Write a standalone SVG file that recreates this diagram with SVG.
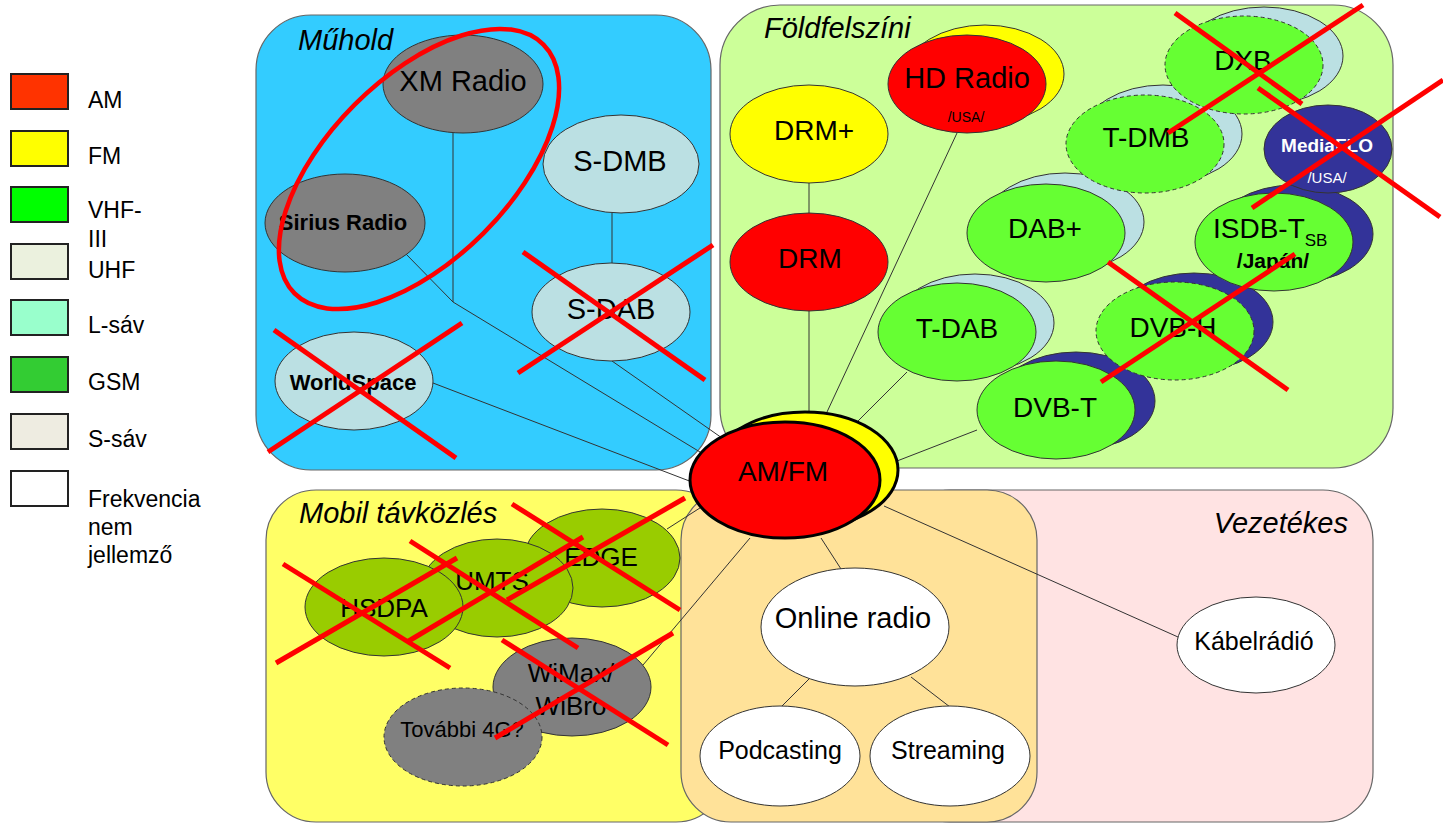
<svg xmlns="http://www.w3.org/2000/svg" width="1443" height="824" viewBox="0 0 1443 824">
<style>
text{font-family:"Liberation Sans",Arial,Helvetica,sans-serif;fill:#000}
.lg{stroke:#222;stroke-width:2}
.lt{font-size:23px}
.pn{stroke:#666;stroke-width:1.2}
.ttl{font-size:29px;font-style:italic}
.nd{stroke:#333;stroke-width:1}
.ds{stroke:#333;stroke-width:1;stroke-dasharray:4 3}
.gr{fill:#808080}.lb{fill:#BBE0E3}.gn{fill:#66FF33}.db{fill:#333399}.rd{fill:#FF0000}.ye{fill:#FFFF00}.ol{fill:#99CC00}.wh{fill:#FFFFFF}
.c{text-anchor:middle}
.t28{font-size:28px}.t26{font-size:26px}.t25{font-size:25px}
.cn{stroke:#333;stroke-width:1;fill:none}
.x{stroke:#FF0000;stroke-width:5;stroke-linecap:butt;fill:none}
</style>

<g id="legend">
<rect class="lg" x="11" y="74" width="57" height="35" fill="#FF3300"/>
<text class="lt" x="88" y="108">AM</text>
<rect class="lg" x="11" y="131" width="57" height="35" fill="#FFFF00"/>
<text class="lt" x="88" y="164">FM</text>
<rect class="lg" x="11" y="187" width="57" height="35" fill="#00FF00"/>
<text class="lt" x="88" y="218">VHF-</text>
<text class="lt" x="88" y="247">III</text>
<rect class="lg" x="11" y="244" width="57" height="35" fill="#EBF1DE"/>
<text class="lt" x="88" y="278">UHF</text>
<rect class="lg" x="11" y="300" width="57" height="35" fill="#99FFCC"/>
<text class="lt" x="88" y="333">L-sáv</text>
<rect class="lg" x="11" y="357" width="57" height="35" fill="#33CC33"/>
<text class="lt" x="88" y="390">GSM</text>
<rect class="lg" x="11" y="414" width="57" height="35" fill="#EEECE1"/>
<text class="lt" x="88" y="447">S-sáv</text>
<rect class="lg" x="11" y="471" width="57" height="35" fill="#FFFFFF"/>
<text class="lt" x="88" y="507">Frekvencia</text>
<text class="lt" x="88" y="535">nem</text>
<text class="lt" x="88" y="563">jellemző</text>
</g>

<g id="panels">
<rect id="muhold" class="pn" x="256" y="15" width="455" height="455" rx="55" fill="#33CCFF"/>
<text class="ttl" x="298" y="50">Műhold</text>
<rect id="foldfelszini" class="pn" x="720" y="5" width="673" height="463" rx="60" fill="#CCFF99"/>
<text class="ttl" x="764" y="38">Földfelszíni</text>
<rect id="mobil" class="pn" x="266" y="490" width="460" height="332" rx="50" fill="#FFFF66"/>
<text class="ttl" x="299" y="523">Mobil távközlés</text>
<rect id="vezetekes" class="pn" x="900" y="490" width="473" height="332" rx="50" fill="#FFE3E3"/>
<text class="ttl" x="1348" y="533" text-anchor="end">Vezetékes</text>
<rect id="online" class="pn" x="681" y="490" width="356" height="332" rx="50" fill="#FFE299"/>
</g>

<g id="connectors">
<polyline class="cn" points="453,133 453,302 700,452"/>
<line class="cn" x1="405" y1="253" x2="453" y2="302"/>
<line class="cn" x1="612" y1="213" x2="612" y2="263"/>
<line class="cn" x1="612" y1="361" x2="722" y2="438"/>
<line class="cn" x1="433" y1="383" x2="692" y2="482"/>
<line class="cn" x1="809" y1="183" x2="809" y2="213"/>
<line class="cn" x1="809" y1="311" x2="809" y2="413"/>
<line class="cn" x1="957" y1="133" x2="827" y2="412"/>
<line class="cn" x1="907" y1="372" x2="858" y2="421"/>
<line class="cn" x1="977" y1="430" x2="897" y2="461"/>
<line class="cn" x1="667" y1="529" x2="703" y2="506"/>
<line class="cn" x1="643" y1="665" x2="750" y2="538"/>
<line class="cn" x1="821" y1="538" x2="841" y2="569"/>
<line class="cn" x1="809" y1="679" x2="781" y2="707"/>
<line class="cn" x1="911" y1="677" x2="950" y2="707"/>
<line class="cn" x1="884" y1="506" x2="1178" y2="637"/>
</g>

<g id="node-xm"><ellipse class="nd gr" cx="463" cy="84" rx="80" ry="49"/><text class="c" x="463" y="91" font-size="29">XM Radio</text></g>
<g id="node-sirius"><ellipse class="nd gr" cx="345" cy="223" rx="80" ry="49"/><text class="c" x="343" y="230" font-size="22" font-weight="bold">Sirius Radio</text></g>
<g id="node-sdmb"><ellipse class="nd lb" cx="621" cy="164" rx="78" ry="49"/><text class="c" x="620" y="171" font-size="29">S-DMB</text></g>
<g id="node-sdab"><ellipse class="nd lb" cx="611" cy="312" rx="79" ry="49"/><text class="c" x="611" y="319" font-size="29">S-DAB</text></g>
<g id="node-worldspace"><ellipse class="nd lb" cx="354" cy="381" rx="79" ry="49"/><text class="c" x="353" y="390" font-size="22" font-weight="bold">WorldSpace</text></g>

<g id="node-drmplus"><ellipse class="nd ye" cx="809" cy="134" rx="79" ry="49"/><text class="c t28" x="814" y="140">DRM+</text></g>
<g id="node-drm"><ellipse class="nd rd" cx="809" cy="262" rx="79" ry="49"/><text class="c t28" x="810" y="268">DRM</text></g>
<g id="node-hdradio"><ellipse class="nd ye" cx="985" cy="74" rx="79" ry="49"/><ellipse class="nd rd" cx="967" cy="84" rx="79" ry="49"/><text class="c" x="967" y="88" font-size="29">HD Radio</text><text class="c" x="966" y="122" font-size="14">/USA/</text></g>
<g id="node-tdab"><ellipse class="nd lb" cx="975" cy="323" rx="79" ry="49"/><ellipse class="nd gn" cx="957" cy="332" rx="79" ry="49"/><text class="c t28" x="957" y="338">T-DAB</text></g>
<g id="node-dabplus"><ellipse class="nd lb" cx="1065" cy="222" rx="79" ry="49"/><ellipse class="nd gn" cx="1046" cy="233" rx="79" ry="49"/><text class="c t28" x="1045" y="238">DAB+</text></g>
<g id="node-dvbt"><ellipse class="nd db" cx="1076" cy="401" rx="79" ry="49"/><ellipse class="nd gn" cx="1056" cy="410" rx="79" ry="49"/><text class="c t28" x="1055" y="417">DVB-T</text></g>
<g id="node-dvbh"><ellipse class="nd db" cx="1194" cy="322" rx="79" ry="49"/><ellipse class="ds gn" cx="1175" cy="331" rx="79" ry="49"/><text class="c t28" x="1173" y="337">DVB-H</text></g>
<g id="node-isdb"><ellipse class="nd db" cx="1294" cy="234" rx="79" ry="49"/><ellipse class="nd gn" cx="1274" cy="242" rx="79" ry="49"/><text x="1213" y="238" font-size="28">ISDB-T<tspan font-size="17" dy="8">SB</tspan></text><text class="c" x="1273" y="268" font-size="21" font-weight="bold">/Japán/</text></g>
<g id="node-mediaflo"><ellipse class="nd db" cx="1328" cy="149" rx="64" ry="44"/><text class="c" x="1327" y="152" font-size="19" font-weight="bold" style="fill:#fff">MediaFLO</text><text class="c" x="1327" y="183" font-size="15" style="fill:#fff">/USA/</text></g>
<g id="node-tdmb"><ellipse class="nd lb" cx="1163" cy="134" rx="79" ry="49"/><ellipse class="ds gn" cx="1145" cy="144" rx="79" ry="49"/><text class="c t28" x="1146" y="147">T-DMB</text></g>
<g id="node-dxb"><ellipse class="nd lb" cx="1264" cy="56" rx="79" ry="49"/><ellipse class="ds gn" cx="1244" cy="65" rx="79" ry="49"/><text class="c t28" x="1243" y="70">DXB</text></g>

<g id="node-edge"><ellipse class="nd ol" cx="602" cy="558" rx="78" ry="49"/><text class="c t26" x="601" y="566">EDGE</text></g>
<g id="node-umts"><ellipse class="nd ol" cx="497" cy="588" rx="76" ry="49"/><text class="c t26" x="492" y="590">UMTS</text></g>
<g id="node-hsdpa"><ellipse class="nd ol" cx="384" cy="607" rx="79" ry="49"/><text class="c t26" x="384" y="617">HSDPA</text></g>
<g id="node-wimax"><ellipse class="nd gr" cx="572" cy="687" rx="79" ry="49"/><text class="c t26" x="571" y="682">WiMax/</text><text class="c t26" x="571" y="715">WiBro</text></g>
<g id="node-4g"><ellipse class="ds gr" cx="463" cy="737" rx="79" ry="49"/><text class="c" x="462" y="737" font-size="22">További 4G?</text></g>

<g id="node-online"><ellipse class="nd wh" cx="855" cy="627" rx="94" ry="59"/><text class="c" x="853" y="628" font-size="29">Online radio</text></g>
<g id="node-podcasting"><ellipse class="nd wh" cx="780" cy="756" rx="80" ry="50"/><text class="c t25" x="780" y="759">Podcasting</text></g>
<g id="node-streaming"><ellipse class="nd wh" cx="950" cy="756" rx="80" ry="50"/><text class="c t25" x="948" y="759">Streaming</text></g>
<g id="node-kabel"><ellipse class="nd wh" cx="1256" cy="645" rx="79" ry="48"/><text class="c t25" x="1254" y="650">Kábelrádió</text></g>

<g id="node-amfm"><ellipse cx="805" cy="470" rx="93" ry="58" fill="#FFFF00" stroke="#000" stroke-width="3"/><ellipse cx="785" cy="480" rx="95" ry="58" fill="#FF0000" stroke="#000" stroke-width="3"/><text class="c t28" x="783" y="481">AM/FM</text></g>

<g id="annotations">
<ellipse cx="419" cy="169" rx="176" ry="91" transform="rotate(-45 419 169)" fill="none" stroke="#FF0000" stroke-width="4.5"/>
<line class="x" x1="523" y1="252" x2="705" y2="380"/><line class="x" x1="713" y1="245" x2="518" y2="373"/>
<line class="x" x1="274" y1="330" x2="456" y2="458"/><line class="x" x1="462" y1="323" x2="268" y2="452"/>
<line class="x" x1="1175" y1="13" x2="1302" y2="104"/><line class="x" x1="1363" y1="5" x2="1168" y2="133"/>
<line class="x" x1="1258" y1="88" x2="1440" y2="217"/><line class="x" x1="1443" y1="80" x2="1252" y2="208"/>
<line class="x" x1="1108" y1="262" x2="1288" y2="390"/><line class="x" x1="1295" y1="254" x2="1101" y2="382"/>
<line class="x" x1="512" y1="504" x2="680" y2="610"/><line class="x" x1="685" y1="498" x2="507" y2="600"/>
<line class="x" x1="410" y1="541" x2="578" y2="648"/><line class="x" x1="583" y1="537" x2="407" y2="642"/>
<line class="x" x1="283" y1="564" x2="450" y2="668"/><line class="x" x1="276" y1="663" x2="457" y2="558"/>
<line class="x" x1="502" y1="640" x2="668" y2="745"/><line class="x" x1="673" y1="633" x2="495" y2="738"/>
</g>
</svg>
